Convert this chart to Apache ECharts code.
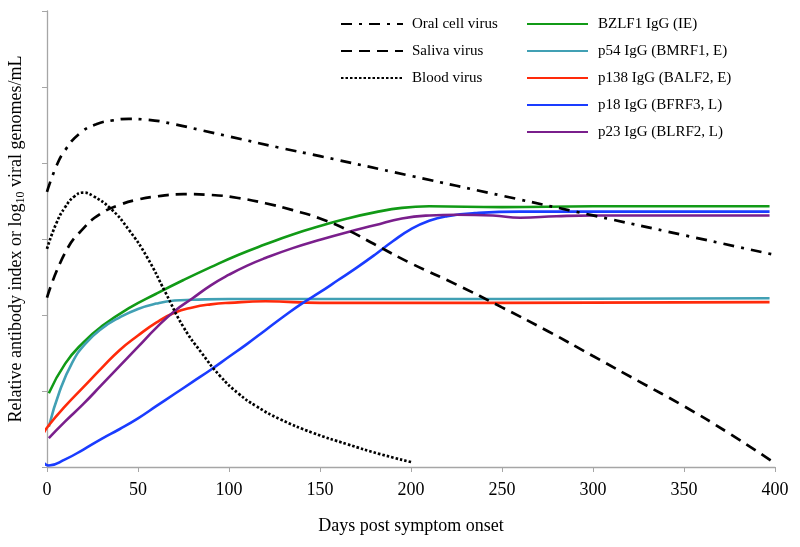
<!DOCTYPE html>
<html>
<head>
<meta charset="utf-8">
<script src="https://cdn.jsdelivr.net/npm/echarts@6/dist/echarts.min.js"></script>
<style>html,body{margin:0;padding:0;background:#fff;}#c{width:800px;height:547px;}</style>
</head>
<body>
<div id="c"></div>
<script>
// Data: [day, value]
var oralCell = [[0,3.62],[5,3.95],[10,4.17],[18,4.39],[27,4.51],[36,4.56],[45,4.58],[55,4.57],[70,4.51],[85,4.43],[100,4.35],[128,4.2],[150,4.09],[200,3.83],[250,3.57],[300,3.31],[350,3.05],[400,2.79]];
var saliva = [[0,2.23],[10,2.82],[20,3.14],[30,3.34],[40,3.45],[50,3.52],[60,3.56],[75,3.59],[90,3.58],[105,3.54],[120,3.47],[135,3.38],[150,3.27],[165,3.12],[180,2.93],[200,2.68],[225,2.4],[250,2.1],[275,1.79],[300,1.46],[325,1.13],[350,0.8],[375,0.44],[400,0.05]];
var blood = [[0,2.87],[5,3.2],[10,3.42],[15,3.56],[20,3.61],[25,3.57],[35,3.4],[45,3.12],[55,2.76],[65,2.3],[75,1.84],[85,1.5],[95,1.2],[105,0.97],[115,0.8],[128,0.63],[146,0.45],[165,0.3],[183,0.17],[201,0.06]];
var bzlf1 = [[1,0.97],[10,1.36],[20,1.64],[30,1.85],[45,2.09],[60,2.28],[75,2.46],[90,2.63],[105,2.79],[120,2.93],[135,3.06],[150,3.17],[165,3.27],[180,3.35],[195,3.41],[210,3.43],[250,3.42],[300,3.43],[397,3.43]];
var p54 = [[1,0.53],[7,1.0],[14,1.38],[21,1.62],[30,1.82],[40,1.97],[50,2.08],[60,2.15],[70,2.19],[80,2.2],[100,2.21],[150,2.21],[250,2.21],[397,2.22]];
var p138 = [[-2,0.44],[1,0.55],[10,0.8],[20,1.05],[30,1.3],[40,1.54],[50,1.73],[60,1.9],[70,2.03],[80,2.1],[90,2.14],[100,2.16],[120,2.18],[150,2.16],[250,2.16],[397,2.17]];
var p18 = [[-2,0.06],[1,0.02],[10,0.1],[20,0.23],[30,0.37],[40,0.5],[50,0.64],[60,0.8],[70,0.96],[80,1.12],[90,1.28],[100,1.45],[110,1.62],[120,1.8],[130,1.98],[140,2.15],[150,2.3],[160,2.46],[170,2.62],[180,2.79],[190,2.97],[200,3.13],[210,3.24],[220,3.3],[235,3.34],[260,3.36],[397,3.36]];
var p23 = [[1,0.38],[10,0.6],[20,0.83],[30,1.08],[40,1.33],[50,1.58],[60,1.83],[70,2.05],[80,2.22],[90,2.39],[100,2.53],[110,2.65],[120,2.75],[135,2.88],[150,2.99],[165,3.09],[180,3.18],[195,3.27],[210,3.31],[225,3.32],[245,3.31],[260,3.28],[280,3.3],[300,3.31],[397,3.31]];

var virusNames = ['Oral cell virus','Saliva virus','Blood virus'];
var abNames = ['BZLF1 IgG (IE)','p54 IgG (BMRF1, E)','p138 IgG (BALF2, E)','p18 IgG (BFRF3, L)','p23 IgG (BLRF2, L)'];
var xTicks = {min:0, max:400, interval:50};
var yTicks = {min:0, max:6, interval:1};

var FONT = 'Liberation Serif';
function ser(name, data, color, type, width){
  return {name:name, type:'line', data:data, symbol:'none', showSymbol:false, smooth:0.5, clip:false,
    lineStyle:{color:color, width:width, type:type}, itemStyle:{color:color}};
}
function legendOf(names, left, w, pad){
  return {data:names, left:left, itemWidth:w, orient:'vertical', top:16.5, padding:0, itemHeight:14, itemGap:12,
    itemStyle:{opacity:0},
    textStyle:{fontFamily:FONT, fontSize:15, color:'#000', padding:[0,0,0,pad]}};
}
var chart = echarts.init(document.getElementById('c'), null, {renderer:'canvas'});
chart.setOption({
  backgroundColor:'#fff',
  animation:false,
  grid:{left:47, right:25, top:11, bottom:80, containLabel:false, outerBoundsMode:'none'},
  legend:[legendOf(virusNames, 340, 62, 4), legendOf(abNames, 526, 61, 5)],
  xAxis:{type:'value', min:xTicks.min, max:xTicks.max, interval:xTicks.interval,
    name:'Days post symptom onset', nameLocation:'middle', nameGap:50,
    nameTextStyle:{fontFamily:FONT, fontSize:18, color:'#000'},
    axisLine:{lineStyle:{color:'#a6a6a6', width:1.3}},
    axisTick:{show:true, length:5, lineStyle:{color:'#a6a6a6'}},
    axisLabel:{fontFamily:FONT, fontSize:18, color:'#000', margin:14},
    splitLine:{show:false}},
  yAxis:{type:'value', min:yTicks.min, max:yTicks.max, interval:yTicks.interval,
    name:'Relative antibody index or log{sub|10} viral genomes/mL', nameLocation:'middle', nameGap:20,
    nameTextStyle:{fontFamily:FONT, fontSize:18, color:'#000', lineHeight:22,
      rich:{sub:{fontFamily:FONT, fontSize:12, color:'#000', verticalAlign:'bottom', lineHeight:12}}},
    axisLine:{show:true, lineStyle:{color:'#a6a6a6', width:1.3}},
    axisTick:{show:true, length:5, lineStyle:{color:'#a6a6a6'}},
    axisLabel:{show:false},
    splitLine:{show:false}},
  series:[
    ser(abNames[0], bzlf1, '#119a16', 'solid', 2.6),
    ser(abNames[1], p54, '#41a0b4', 'solid', 2.6),
    ser(abNames[2], p138, '#ff2a0a', 'solid', 2.6),
    ser(abNames[3], p18, '#1a3cff', 'solid', 2.6),
    ser(abNames[4], p23, '#7a1f8c', 'solid', 2.6),
    ser(virusNames[0], oralCell, '#000', [11,7,3,7], 2.7),
    ser(virusNames[1], saliva, '#000', [11,7], 2.7),
    ser(virusNames[2], blood, '#000', [2.5,2], 2.7)
  ]
});
</script>
</body>
</html>
